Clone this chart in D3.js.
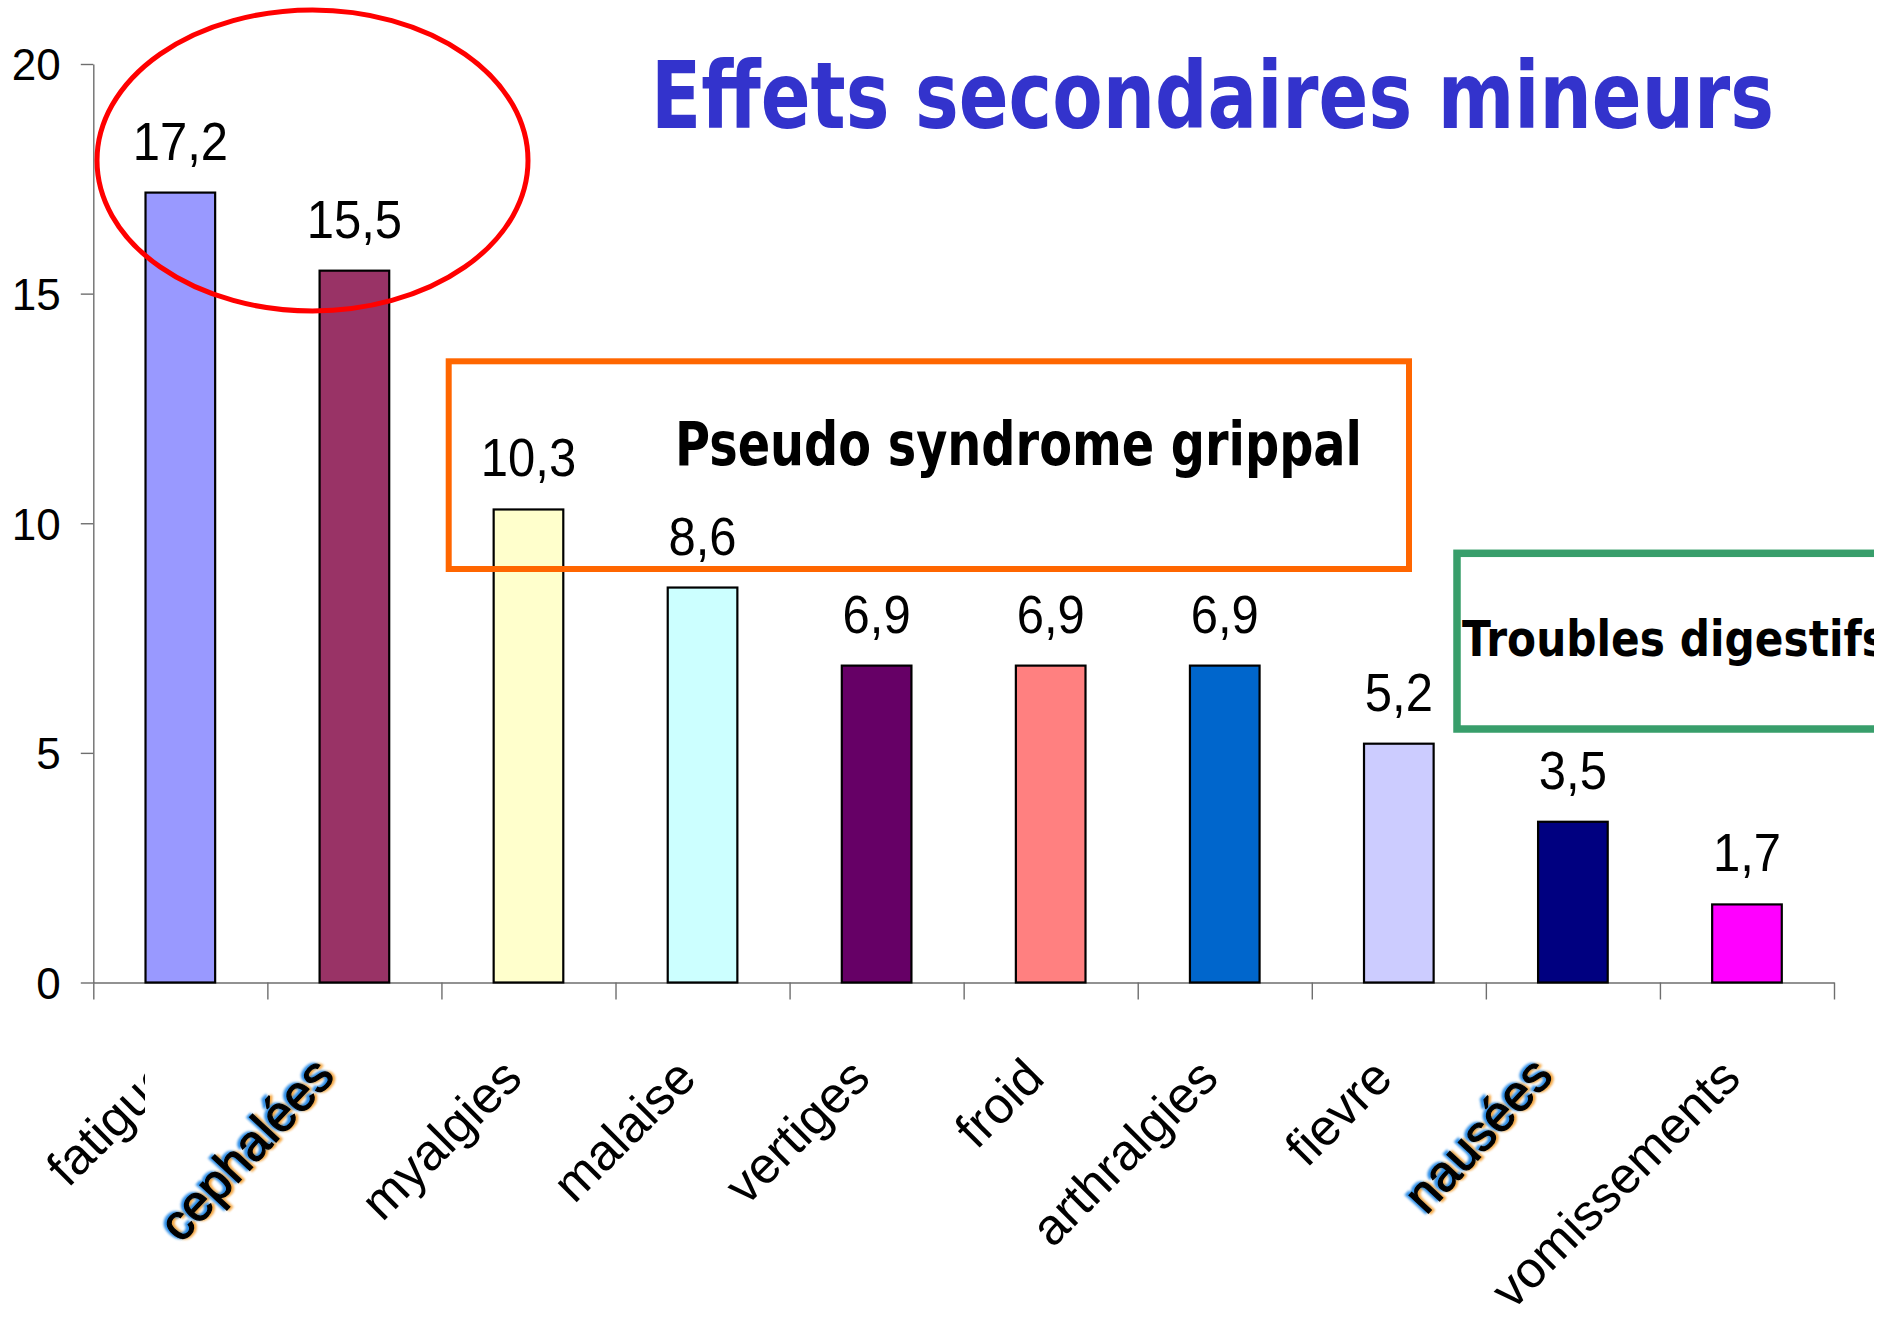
<!DOCTYPE html>
<html>
<head>
<meta charset="utf-8">
<script src="https://cdn.jsdelivr.net/npm/d3@7"></script>
<style>
  body { margin: 0; background: #fff; }
  svg { display: block; }
</style>
</head>
<body>
<svg id="chart"></svg>
<script>
// data
var categories = ['fatigue', 'cephalées', 'myalgies', 'malaise', 'vertiges', 'froid', 'arthralgies', 'fievre', 'nausées', 'vomissements'];
var values = [17.2, 15.5, 10.3, 8.6, 6.9, 6.9, 6.9, 5.2, 3.5, 1.7];
var barColors = ['#9999FF', '#993366', '#FFFFCC', '#CCFFFF', '#660066', '#FF8080', '#0066CC', '#CCCCFF', '#000080', '#FF00FF'];
var yTicks = [0, 5, 10, 15, 20];
var pastedLabels = ['cephalées', 'nausées'];   // these two look pasted in, bolder with colour fringe

var W = 1901, H = 1317;
var plotL = 93.3, plotR = 1834, plotT = 64, plotB = 982.5;
var armFont = '"Liberation Sans", Arial, sans-serif';

var svg = d3.select('#chart').attr('width', W).attr('height', H);

var defs = svg.append('defs');
defs.append('filter').attr('id', 'soft').append('feGaussianBlur').attr('stdDeviation', 1.2);
defs.append('clipPath').attr('id', 'edge').append('rect')
    .attr('x', 0).attr('y', 0).attr('width', 1874).attr('height', H);

var comma = d3.formatLocale({decimal: ',', thousands: ' ', grouping: [3], currency: ['', '€']}).format('.1f');

var x = d3.scaleBand()
    .domain(categories)
    .range([plotL, plotR])
    .paddingInner(0.6)
    .paddingOuter(0.3);

// boundaries between categories, for the bottom ticks
var xb = d3.scaleLinear().domain([0, categories.length]).range([plotL, plotR]);

var y = d3.scaleLinear().domain([0, 20]).range([plotB, plotT]);

// y axis
var yAxis = svg.append('g')
    .attr('transform', 'translate(' + plotL + ',0)')
    .call(d3.axisLeft(y).tickValues(yTicks).tickSizeInner(12.5).tickSizeOuter(0).tickPadding(20));
yAxis.selectAll('line, path').attr('stroke', '#6e6e6e').attr('stroke-width', 1.4);
yAxis.selectAll('text')
    .attr('fill', '#000')
    .style('font-family', armFont)
    .style('font-size', '44px')
    .attr('dy', '0.36em');

// x axis
var xAxis = svg.append('g')
    .attr('transform', 'translate(0,' + plotB + ')')
    .call(d3.axisBottom(xb).tickValues(d3.range(categories.length + 1)).tickSize(17).tickSizeOuter(0).tickFormat(''));
xAxis.selectAll('line, path').attr('stroke', '#6e6e6e').attr('stroke-width', 1.4);

// bars
svg.selectAll('rect.bar')
    .data(values)
    .enter()
    .append('rect')
    .attr('class', 'bar')
    .attr('x', function(d, i) { return x(categories[i]); })
    .attr('y', function(d) { return y(d); })
    .attr('width', x.bandwidth())
    .attr('height', function(d) { return y(0) - y(d); })
    .attr('fill', function(d, i) { return barColors[i]; })
    .attr('stroke', '#000')
    .attr('stroke-width', 2.2);

// value labels (slightly tall in the original)
svg.selectAll('text.val')
    .data(values)
    .enter()
    .append('text')
    .attr('class', 'val')
    .attr('transform', function(d, i) {
        return 'translate(' + (x(categories[i]) + x.bandwidth() / 2) + ',' + (y(d) - 33) + ') scale(1,1.11)';
    })
    .attr('text-anchor', 'middle')
    .style('font-family', armFont)
    .style('font-size', '49px')
    .text(function(d) { return comma(d); });

// category labels
function labelPos(name, i) {
    var pasted = pastedLabels.indexOf(name) >= 0;
    var off = pasted ? -18 : -4;
    return 'translate(' + (x(categories[i]) + x.bandwidth() / 2 + off) + ',' + (plotB + (pasted ? 95 : 98)) + ') rotate(' + (pasted ? -47 : -45) + ')';
}

var catG = svg.append('g');
categories.forEach(function(name, i) {
    if (pastedLabels.indexOf(name) >= 0) {
        // white box of the pasted picture, it hides the end of "fatigue"
        if (i === 1) {
            catG.append('rect').attr('x', 145).attr('y', 1035).attr('width', 200).attr('height', 230).attr('fill', '#fff');
        }
        var g = catG.append('g').attr('transform', labelPos(name, i));
        g.append('text').text(name).attr('text-anchor', 'end')
            .attr('x', 1.6).attr('y', 1.6)
            .attr('fill', '#f4a640').attr('stroke', '#f4a640').attr('stroke-width', 2)
            .attr('filter', 'url(#soft)')
            .style('font-family', armFont).style('font-size', '50px');
        g.append('text').text(name).attr('text-anchor', 'end')
            .attr('x', -1.6).attr('y', -1.6)
            .attr('fill', '#2f8fe8').attr('stroke', '#2f8fe8').attr('stroke-width', 2)
            .attr('filter', 'url(#soft)')
            .style('font-family', armFont).style('font-size', '50px');
        g.append('text').text(name).attr('text-anchor', 'end')
            .attr('fill', '#000').attr('stroke', '#000').attr('stroke-width', 1.2)
            .style('font-family', armFont).style('font-size', '50px');
    } else {
        catG.append('text')
            .attr('transform', labelPos(name, i))
            .attr('text-anchor', 'end')
            .style('font-family', armFont)
            .style('font-size', '51px')
            .text(name);
    }
});

// title
svg.append('text')
    .attr('x', 651).attr('y', 128)
    .attr('textLength', 1123).attr('lengthAdjust', 'spacingAndGlyphs')
    .attr('fill', '#3333CC')
    .style('font-family', '"DejaVu Sans", sans-serif')
    .style('font-weight', 'bold')
    .style('font-size', '92px')
    .text('Effets secondaires mineurs');

// red ellipse round the two biggest
svg.append('ellipse')
    .attr('cx', 312.5).attr('cy', 160.5).attr('rx', 215.5).attr('ry', 150.5)
    .attr('fill', 'none').attr('stroke', '#FF0000').attr('stroke-width', 5);

// orange box
svg.append('rect')
    .attr('x', 448.7).attr('y', 361.3).attr('width', 1409 - 448.7).attr('height', 569 - 361.3)
    .attr('fill', 'none').attr('stroke', '#FF6600').attr('stroke-width', 6);
svg.append('text')
    .attr('x', 675).attr('y', 465)
    .attr('textLength', 687).attr('lengthAdjust', 'spacingAndGlyphs')
    .style('font-family', '"DejaVu Sans", sans-serif')
    .style('font-weight', 'bold')
    .style('font-size', '60px')
    .text('Pseudo syndrome grippal');

// green box, cut off at the right edge
var green = svg.append('g').attr('clip-path', 'url(#edge)');
green.append('rect')
    .attr('x', 1457).attr('y', 553.3).attr('width', 1950 - 1457).attr('height', 729 - 553.3)
    .attr('fill', 'none').attr('stroke', '#389E6B').attr('stroke-width', 7.5);
green.append('text')
    .attr('x', 1462).attr('y', 656)
    .attr('textLength', 425).attr('lengthAdjust', 'spacingAndGlyphs')
    .style('font-family', '"DejaVu Sans", sans-serif')
    .style('font-weight', 'bold')
    .style('font-size', '49px')
    .text('Troubles digestifs');
</script>
</body>
</html>
